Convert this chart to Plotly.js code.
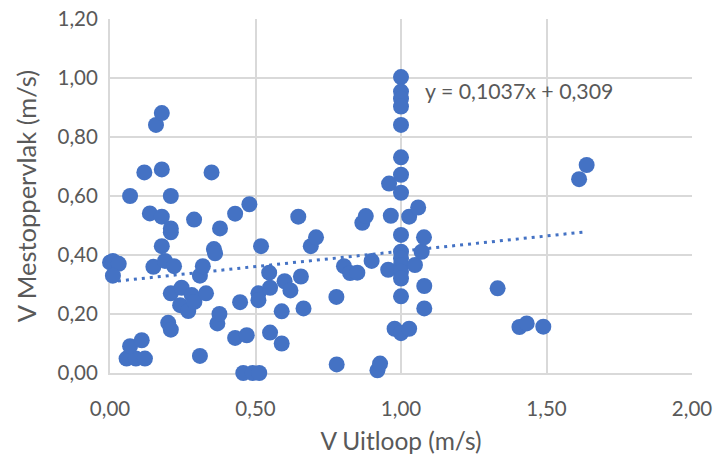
<!DOCTYPE html>
<html>
<head>
<meta charset="utf-8">
<script src="https://cdn.plot.ly/plotly-3.0.1.min.js"></script>
<style>html,body{margin:0;padding:0;background:#fff;}#chart{width:715px;height:459px;}</style>
</head>
<body>
<div id="chart"></div>
<script>
// V Uitloop (m/s)
const xValues = [
  0.00, 0.01, 0.03, 0.01, 0.057, 0.089, 0.12, 0.069, 0.109, 0.069,
  0.118, 0.137, 0.149, 0.158, 0.178, 0.178, 0.178, 0.178, 0.189, 0.20,
  0.209, 0.209, 0.209, 0.209, 0.209, 0.22, 0.241, 0.246, 0.269, 0.281,
  0.29, 0.289, 0.309, 0.309, 0.319, 0.33, 0.349, 0.357, 0.361, 0.369,
  0.376, 0.378, 0.43, 0.43, 0.447, 0.458, 0.49, 0.513, 0.47, 0.479,
  0.51, 0.51, 0.519, 0.547, 0.55, 0.55, 0.59, 0.59, 0.60, 0.62,
  0.647, 0.656, 0.665, 0.69, 0.708, 0.778, 0.779, 0.804, 0.825, 0.85,
  0.867, 0.879, 0.899, 0.919, 0.928, 0.956, 0.959, 0.965, 0.978, 1.00,
  1.00, 1.00, 1.00, 1.00, 1.00, 1.00, 1.00, 1.00, 1.00, 1.00,
  1.00, 1.00, 1.00, 1.00, 1.00, 1.028, 1.028, 1.048, 1.059, 1.071,
  1.079, 1.08, 1.08, 1.332, 1.407, 1.432, 1.489, 1.612, 1.638
];
// V Mestoppervlak (m/s)
const yValues = [
  0.375, 0.38, 0.37, 0.33, 0.049, 0.049, 0.049, 0.091, 0.111, 0.60,
  0.68, 0.541, 0.36, 0.841, 0.881, 0.69, 0.53, 0.43, 0.38, 0.17,
  0.147, 0.60, 0.49, 0.477, 0.27, 0.362, 0.23, 0.289, 0.21, 0.264,
  0.241, 0.52, 0.058, 0.33, 0.362, 0.27, 0.68, 0.42, 0.406, 0.168,
  0.20, 0.49, 0.54, 0.119, 0.24, 0.0, 0.0, 0.0, 0.128, 0.572,
  0.27, 0.247, 0.43, 0.34, 0.289, 0.137, 0.209, 0.10, 0.311, 0.28,
  0.53, 0.327, 0.219, 0.43, 0.46, 0.258, 0.029, 0.362, 0.339, 0.34,
  0.509, 0.532, 0.38, 0.009, 0.032, 0.35, 0.642, 0.533, 0.15, 1.003,
  0.954, 0.93, 0.903, 0.841, 0.731, 0.672, 0.611, 0.468, 0.411, 0.388,
  0.366, 0.343, 0.32, 0.26, 0.135, 0.15, 0.53, 0.366, 0.561, 0.411,
  0.46, 0.295, 0.219, 0.287, 0.156, 0.168, 0.157, 0.657, 0.705
];
// Linear trendline as printed on the chart
const trendSlope = 0.1037;
const trendIntercept = 0.309;
const trendLabel = 'y = 0,1037x + 0,309';
const xTicks = [0, 0.5, 1, 1.5, 2];
const yTicks = [0, 0.2, 0.4, 0.6, 0.8, 1.0, 1.2];

const xMin = Math.min(...xValues), xMax = Math.max(...xValues);
const trendX = [xMin, xMax];
const trendY = trendX.map(v => trendSlope * v + trendIntercept);

const blue = '#4472C4';
const grey = '#595959';
const grid = '#d9d9d9';
const fontFam = 'Lato, "Open Sans", sans-serif';

const traces = [
  {
    x: trendX, y: trendY, type: 'scatter', mode: 'lines',
    line: {color: blue, width: 3, dash: '3px,5px'},
    hoverinfo: 'skip', showlegend: false
  },
  {
    x: xValues, y: yValues, type: 'scatter', mode: 'markers',
    marker: {color: blue, size: 16, line: {width: 0}},
    cliponaxis: false, showlegend: false
  }
];

const layout = {
  width: 715, height: 459,
  margin: {l: 110, r: 23, t: 19, b: 86, pad: 0},
  paper_bgcolor: '#ffffff', plot_bgcolor: '#ffffff',
  separators: ',.',
  font: {family: fontFam, color: grey, size: 20},
  showlegend: false,
  xaxis: {
    range: [0, 2], tickvals: xTicks, tickformat: '.2f',
    showgrid: true, gridcolor: grid, gridwidth: 2,
    showline: true, linecolor: grid, linewidth: 2, layer: 'below traces',
    zeroline: false, ticks: '', ticklabelstandoff: 16,
    tickfont: {family: fontFam, size: 20.5, color: grey},
    title: {text: 'V Uitloop (m/s)', font: {family: fontFam, size: 24.5, color: grey}, standoff: 14}
  },
  yaxis: {
    range: [0, 1.2], tickvals: yTicks, tickformat: '.2f',
    showgrid: true, gridcolor: grid, gridwidth: 2,
    showline: true, linecolor: grid, linewidth: 2, layer: 'below traces',
    zeroline: false, ticks: '', ticklabelstandoff: 6,
    tickfont: {family: fontFam, size: 20.5, color: grey},
    title: {text: 'V Mestoppervlak (m/s)', font: {family: fontFam, size: 25.5, color: grey}, standoff: 14}
  },
  annotations: [{
    x: 1.076, y: 0.957, xref: 'x', yref: 'y',
    text: trendLabel, showarrow: false,
    xanchor: 'left', yanchor: 'middle',
    font: {family: fontFam, size: 21.3, color: grey}
  }]
};

Plotly.newPlot('chart', traces, layout, {staticPlot: true, displayModeBar: false});
</script>
</body>
</html>
